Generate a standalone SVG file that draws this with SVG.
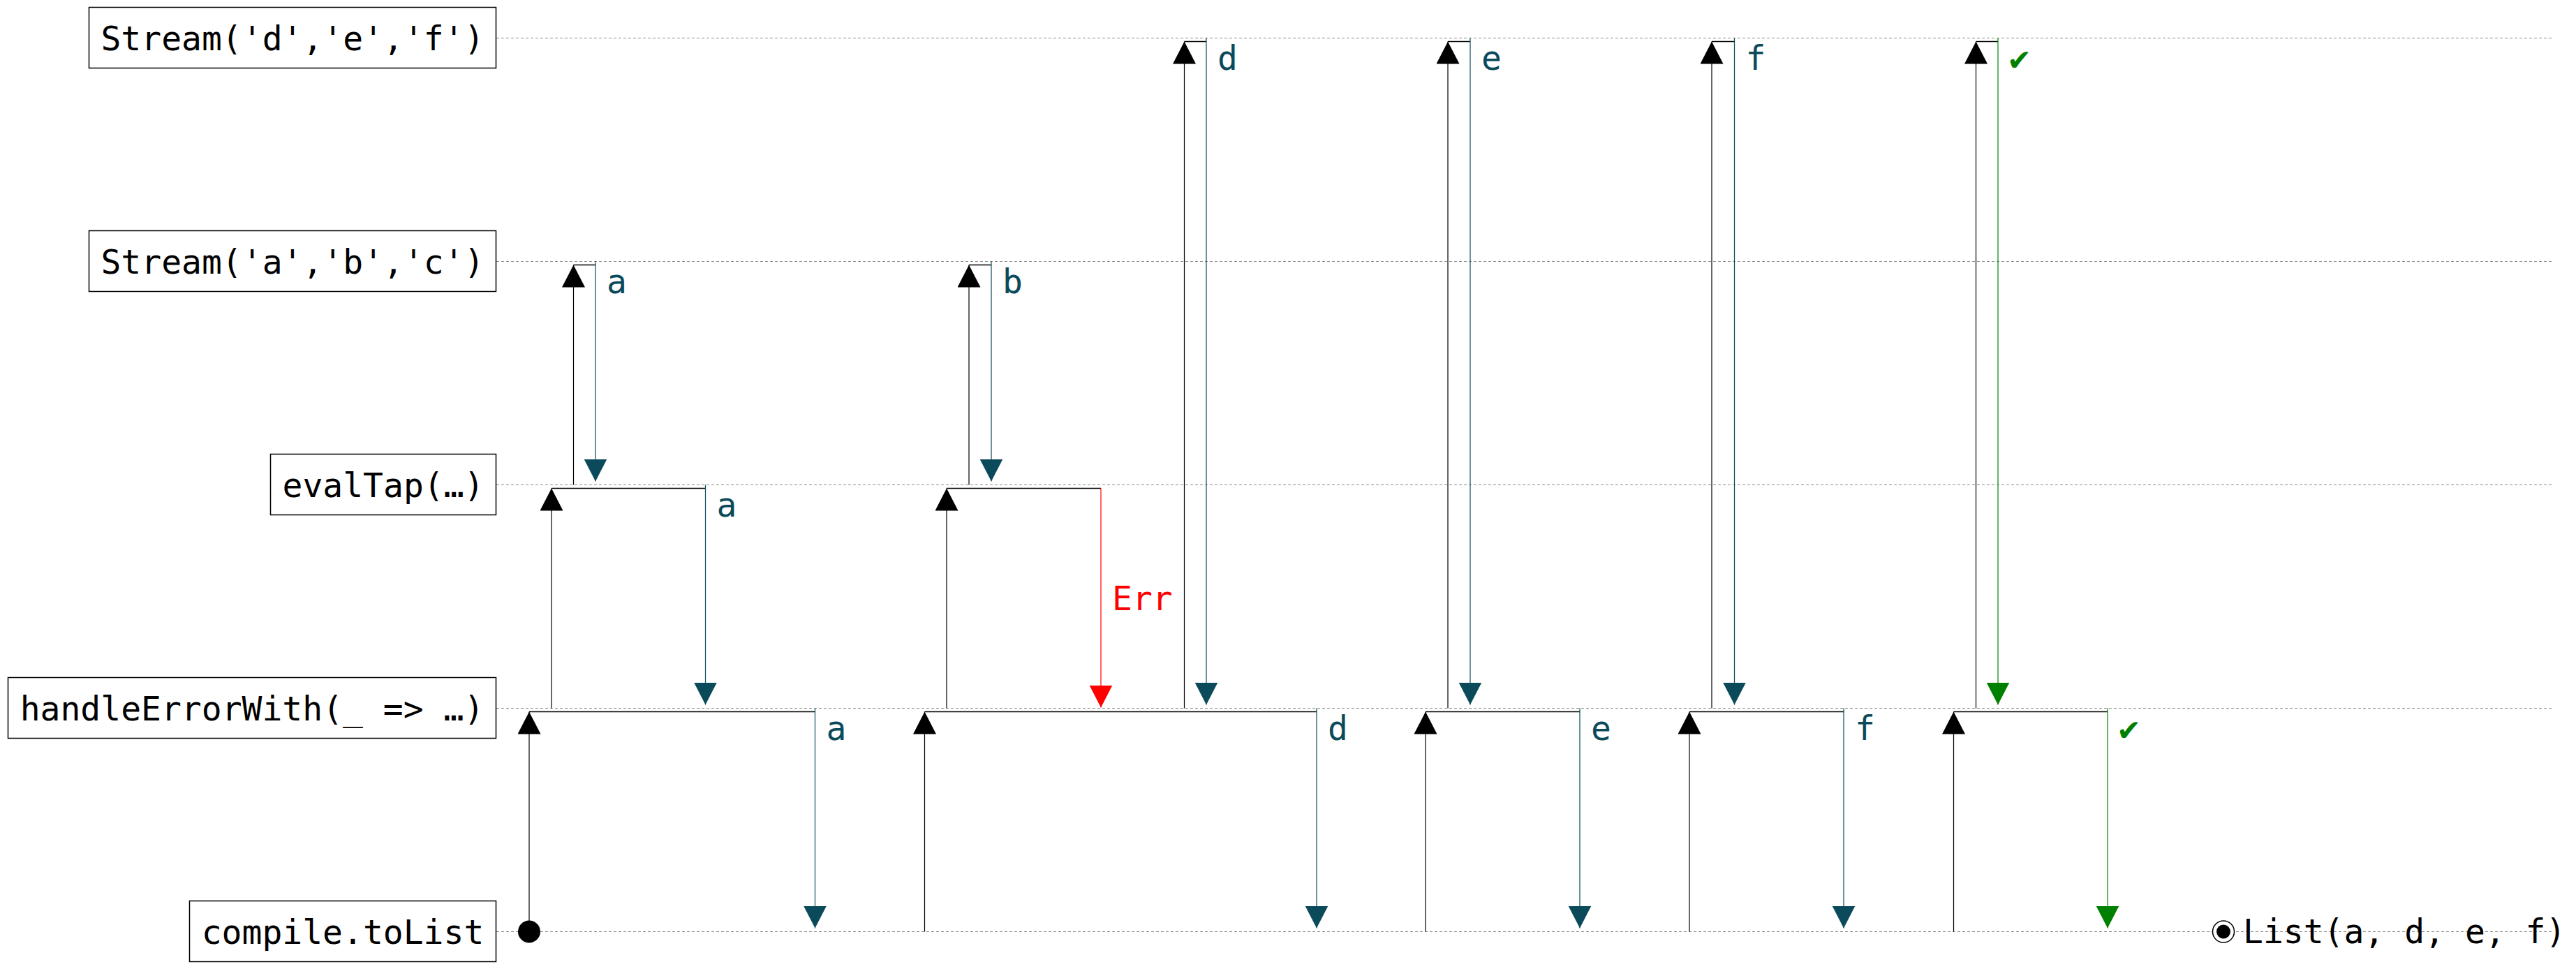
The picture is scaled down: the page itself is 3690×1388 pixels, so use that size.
<svg xmlns="http://www.w3.org/2000/svg" width="3690" height="1388" viewBox="0 0 3690 1388">
<style>
  text { font-family: "DejaVu Sans Mono", "Liberation Mono", monospace; font-size: 48px; }
  .box { fill: #ffffff; stroke: #000000; stroke-width: 1.5; }
  .nodetext { fill: #000000; text-anchor: middle; }
  .lane { stroke: #8c8c8c; stroke-width: 1.2; stroke-dasharray: 4 3; fill: none; }
  .up { stroke: #000000; stroke-width: 1.2; fill: none; marker-end: url(#ahBlack); }
  .hz { stroke: #000000; stroke-width: 1.5; fill: none; }
  .dn { stroke: #0a4a5a; stroke-width: 1.2; fill: none; marker-end: url(#ahTeal); }
  .err { stroke: #ff0000; stroke-width: 1.2; fill: none; marker-end: url(#ahRed); }
  .ok { stroke: #008000; stroke-width: 1.2; fill: none; marker-end: url(#ahGreen); }
  .lbl { fill: #0a4a5a; }
  .lblErr { fill: #ff0000; }
  .lblOk { fill: #008000; }
</style>
<defs>
  <marker id="ahBlack" markerUnits="userSpaceOnUse" viewBox="0 0 32 33" refX="32" refY="16.5" markerWidth="32" markerHeight="33" orient="auto"><path d="M0,0 L32,16.5 L0,33 z" fill="#000000"/></marker>
  <marker id="ahTeal" markerUnits="userSpaceOnUse" viewBox="0 0 32 33" refX="32" refY="16.5" markerWidth="32" markerHeight="33" orient="auto"><path d="M0,0 L32,16.5 L0,33 z" fill="#0a4a5a"/></marker>
  <marker id="ahRed" markerUnits="userSpaceOnUse" viewBox="0 0 32 33" refX="32" refY="16.5" markerWidth="32" markerHeight="33" orient="auto"><path d="M0,0 L32,16.5 L0,33 z" fill="#ff0000"/></marker>
  <marker id="ahGreen" markerUnits="userSpaceOnUse" viewBox="0 0 32 33" refX="32" refY="16.5" markerWidth="32" markerHeight="33" orient="auto"><path d="M0,0 L32,16.5 L0,33 z" fill="#008000"/></marker>
</defs>
<rect x="0" y="0" width="3690" height="1388" fill="#ffffff"/>

<g id="lanes">
  <line class="lane" x1="711" y1="54.5" x2="3656" y2="54.5"/>
  <line class="lane" x1="711" y1="374.5" x2="3656" y2="374.5"/>
  <line class="lane" x1="711" y1="694.5" x2="3656" y2="694.5"/>
  <line class="lane" x1="711" y1="1014.5" x2="3656" y2="1014.5"/>
  <line class="lane" x1="711" y1="1334.5" x2="3656" y2="1334.5"/>
</g>

<g id="node-stream-def">
  <rect class="box" x="127.5" y="10.5" width="583" height="87"/>
  <text class="nodetext" x="419" y="72">Stream('d','e','f')</text>
</g>
<g id="node-stream-abc">
  <rect class="box" x="127.5" y="330.5" width="583" height="87"/>
  <text class="nodetext" x="419" y="392">Stream('a','b','c')</text>
</g>
<g id="node-evaltap">
  <rect class="box" x="387.5" y="650.5" width="323" height="87"/>
  <text class="nodetext" x="549" y="712">evalTap(…)</text>
</g>
<g id="node-handleerrorwith">
  <rect class="box" x="11.5" y="970.5" width="699" height="87"/>
  <text class="nodetext" x="361" y="1032">handleErrorWith(_ =&gt; …)</text>
</g>
<g id="node-compile">
  <rect class="box" x="271.5" y="1290.5" width="439" height="87"/>
  <text class="nodetext" x="491" y="1352">compile.toList</text>
</g>

<g id="connectors">
  <!-- column a -->
  <circle cx="758" cy="1334.5" r="16" fill="#000000"/>
  <path class="up" d="M758,1334.5 V1019.5"/>
  <path class="hz" d="M758,1019.5 H1167.5"/>
  <path class="up" d="M790,1014.5 V699.5"/>
  <path class="hz" d="M790,699.5 H1010.5"/>
  <path class="up" d="M821.5,694.5 V379.5"/>
  <path class="hz" d="M821.5,379.5 H853"/>
  <path class="dn" d="M853,374.5 V689.5"/>
  <text class="lbl" x="869" y="419.5">a</text>
  <path class="dn" d="M1010.5,694.5 V1009.5"/>
  <text class="lbl" x="1026.5" y="739.5">a</text>
  <path class="dn" d="M1167.5,1014.5 V1329.5"/>
  <text class="lbl" x="1183.5" y="1059.5">a</text>

  <!-- column b -->
  <path class="up" d="M1324.5,1334.5 V1019.5"/>
  <path class="hz" d="M1324.5,1019.5 H1886"/>
  <path class="up" d="M1356,1014.5 V699.5"/>
  <path class="hz" d="M1356,699.5 H1577"/>
  <path class="up" d="M1388,694.5 V379.5"/>
  <path class="hz" d="M1388,379.5 H1420"/>
  <path class="dn" d="M1420,374.5 V689.5"/>
  <text class="lbl" x="1436" y="419.5">b</text>
  <path class="err" d="M1577,699.5 V1013.5"/>
  <text class="lblErr" x="1593" y="874">Err</text>

  <!-- column d -->
  <path class="up" d="M1696.5,1014.5 V59.5"/>
  <path class="hz" d="M1696.5,59.5 H1728"/>
  <path class="dn" d="M1728,54.5 V1009.5"/>
  <text class="lbl" x="1744" y="99.5">d</text>
  <path class="dn" d="M1886,1014.5 V1329.5"/>
  <text class="lbl" x="1902" y="1059.5">d</text>

  <!-- column e -->
  <path class="up" d="M2042,1334.5 V1019.5"/>
  <path class="hz" d="M2042,1019.5 H2263"/>
  <path class="up" d="M2074,1014.5 V59.5"/>
  <path class="hz" d="M2074,59.5 H2106"/>
  <path class="dn" d="M2106,54.5 V1009.5"/>
  <text class="lbl" x="2122" y="99.5">e</text>
  <path class="dn" d="M2263,1014.5 V1329.5"/>
  <text class="lbl" x="2279" y="1059.5">e</text>

  <!-- column f -->
  <path class="up" d="M2420,1334.5 V1019.5"/>
  <path class="hz" d="M2420,1019.5 H2641"/>
  <path class="up" d="M2452,1014.5 V59.5"/>
  <path class="hz" d="M2452,59.5 H2484.5"/>
  <path class="dn" d="M2484.5,54.5 V1009.5"/>
  <text class="lbl" x="2500.5" y="99.5">f</text>
  <path class="dn" d="M2641,1014.5 V1329.5"/>
  <text class="lbl" x="2657" y="1059.5">f</text>

  <!-- completion column -->
  <path class="up" d="M2798.5,1334.5 V1019.5"/>
  <path class="hz" d="M2798.5,1019.5 H3019"/>
  <path class="up" d="M2830.5,1014.5 V59.5"/>
  <path class="hz" d="M2830.5,59.5 H2862"/>
  <path class="ok" d="M2862,54.5 V1009.5"/>
  <text class="lblOk" x="2878" y="99.5">✔</text>
  <path class="ok" d="M3019,1014.5 V1329.5"/>
  <text class="lblOk" x="3035" y="1059.5">✔</text>
</g>

<g id="result">
  <circle cx="3185" cy="1334.5" r="15.5" fill="#ffffff" stroke="#000000" stroke-width="1.5"/>
  <circle cx="3185" cy="1334.5" r="10" fill="#000000"/>
  <text x="3213" y="1351" fill="#000000">List(a, d, e, f)</text>
</g>
</svg>
